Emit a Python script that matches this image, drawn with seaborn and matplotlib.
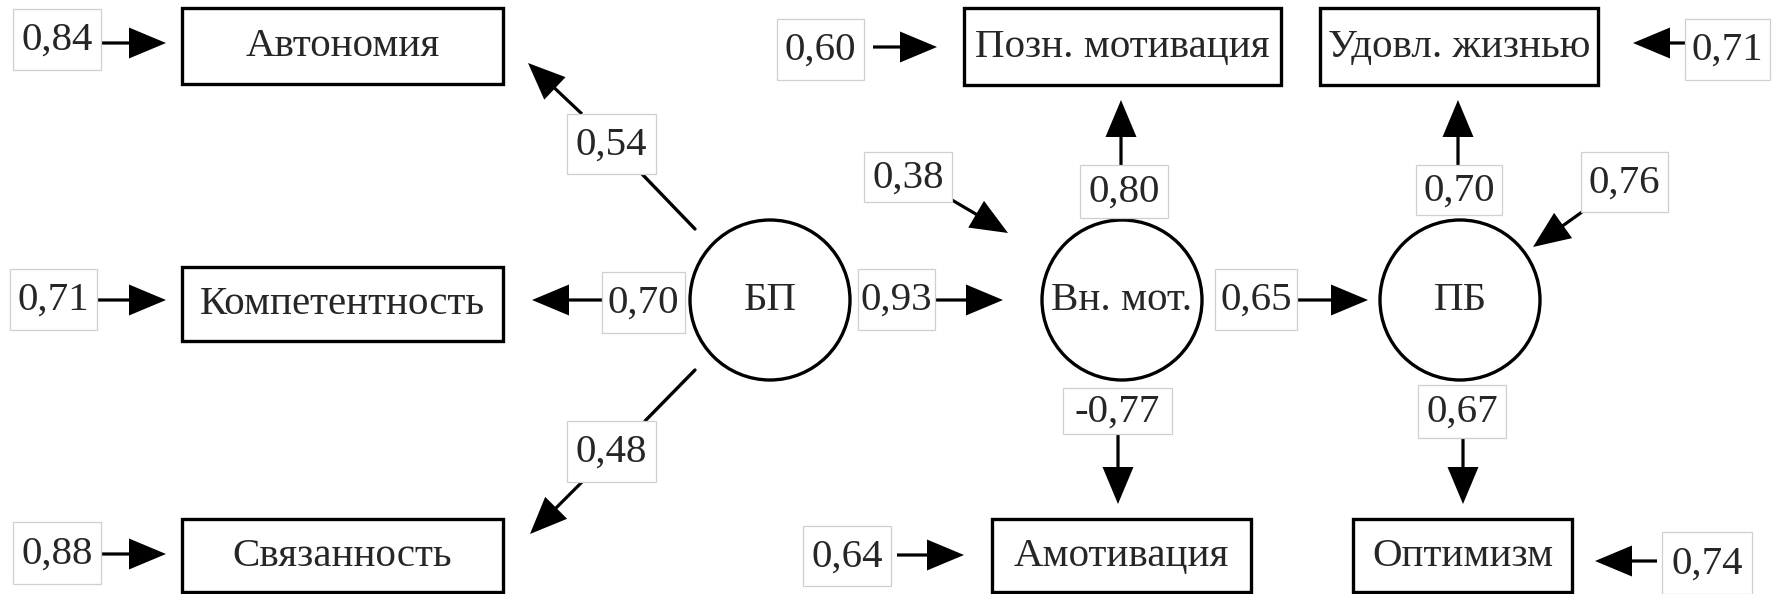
import matplotlib
matplotlib.use("Agg")
import matplotlib.pyplot as plt
from matplotlib.patches import Circle, Rectangle
import seaborn as sns

# ── Data ──────────────────────────────────────────────────────────────────────
latent_names = ["БП", "Вн. мот.", "ПБ"]
observed_names = ["Автономия", "Компетентность", "Связанность",
                  "Позн. мотивация", "Удовл. жизнью", "Амотивация", "Оптимизм"]
# path coefficients: БП→Авт, БП→Комп, БП→Связ, БП→Вн.мот, Вн.мот→Позн,
#                    Вн.мот→Амот, Вн.мот→ПБ, ПБ→Удовл, ПБ→Оптим
path_coefs = [0.54, 0.70, 0.48, 0.93, 0.80, -0.77, 0.65, 0.70, 0.67]
# residuals: Авт, Комп, Связ, Позн, Удовл, Амот, Оптим, Вн.мот, ПБ
resid_coefs = [0.84, 0.71, 0.88, 0.60, 0.71, 0.64, 0.74, 0.38, 0.76]

# ── Layout (pixel coordinates, y downwards) ───────────────────────────────────
LATENT_XY = [(770, 300), (1122, 300), (1460, 300)]
RADIUS = 80
OBS_BOX = [(182, 8, 503, 84), (182, 267, 503, 341), (182, 519, 503, 592),
           (964, 8, 1281, 85), (1320, 8, 1598, 85),
           (992, 519, 1251, 592), (1353, 519, 1572, 592)]
PATH_LABEL = [(567, 114, 656, 174), (602, 272, 685, 333), (567, 421, 656, 482),
              (858, 269, 935, 330), (1080, 165, 1168, 218), (1063, 388, 1172, 434),
              (1215, 269, 1297, 330), (1416, 165, 1502, 215), (1418, 385, 1506, 438)]
PATH_ARROW = [(582, 114, 528, 63), (602, 300, 532, 300), (582, 482, 530, 534),
              (935, 300, 1003, 300), (1121, 165, 1121, 100), (1118, 434, 1118, 504),
              (1297, 300, 1368, 300), (1458, 165, 1458, 100), (1463, 438, 1463, 504)]
PATH_LINE = {0: (695, 229, 642, 174), 2: (695, 370, 645, 421)}
RESID_LABEL = [(13, 9, 101, 70), (10, 269, 97, 330), (13, 522, 101, 584),
               (777, 19, 864, 80), (1685, 19, 1770, 80), (803, 526, 891, 586),
               (1662, 532, 1752, 594), (864, 152, 952, 202), (1581, 152, 1668, 212)]
RESID_ARROW = [(101, 43, 166, 43), (97, 300, 166, 300), (101, 554, 166, 554),
               (873, 47, 937, 47), (1685, 43, 1633, 43), (897, 555, 964, 555),
               (1657, 561, 1595, 561), (952, 200, 1008, 233), (1582, 212, 1533, 247)]

FS = 29.5
LW = 2.4


def fmt(v):
    return f"{v:.2f}".replace(".", ",")


def label(ax, rect, text):
    x0, y0, x1, y1 = rect
    ax.add_patch(Rectangle((x0, y0), x1 - x0, y1 - y0, facecolor="white",
                           edgecolor="#cfcfcf", lw=0.9, zorder=3))
    ax.text((x0 + x1) / 2, (y0 + y1) / 2 + 1, text, ha="center", va="center",
            fontsize=FS, zorder=4)


def arrow(ax, seg):
    x0, y0, x1, y1 = seg
    ax.arrow(x0, y0, x1 - x0, y1 - y0, width=3.2, head_width=31, head_length=37,
             length_includes_head=True, color="black", lw=0, zorder=2)


sns.set_theme(style="white")
plt.rcParams["font.family"] = ["Liberation Serif", "DejaVu Serif"]

fig = plt.figure(figsize=(17.75, 5.94), dpi=100)
ax = fig.add_axes([0, 0, 1, 1])
ax.set_xlim(0, 1775)
ax.set_ylim(594, 0)
ax.axis("off")

for name, (cx, cy) in zip(latent_names, LATENT_XY):
    ax.add_patch(Circle((cx, cy), RADIUS, facecolor="white", edgecolor="black",
                        lw=LW, zorder=2))
    ax.text(cx, cy + 1, name, ha="center", va="center", fontsize=FS, zorder=4)

for name, (x0, y0, x1, y1) in zip(observed_names, OBS_BOX):
    ax.add_patch(Rectangle((x0, y0), x1 - x0, y1 - y0, facecolor="white",
                           edgecolor="black", lw=LW, zorder=2))
    ax.text((x0 + x1) / 2, (y0 + y1) / 2 + 1, name, ha="center", va="center",
            fontsize=FS, zorder=4)

for i, v in enumerate(path_coefs):
    if i in PATH_LINE:
        x0, y0, x1, y1 = PATH_LINE[i]
        ax.plot([x0, x1], [y0, y1], color="black", lw=LW, zorder=1)
    arrow(ax, PATH_ARROW[i])
    label(ax, PATH_LABEL[i], fmt(v))

for i, v in enumerate(resid_coefs):
    arrow(ax, RESID_ARROW[i])
    label(ax, RESID_LABEL[i], fmt(v))

fig.savefig("out.png", dpi=100, facecolor="white")
plt.close(fig)
